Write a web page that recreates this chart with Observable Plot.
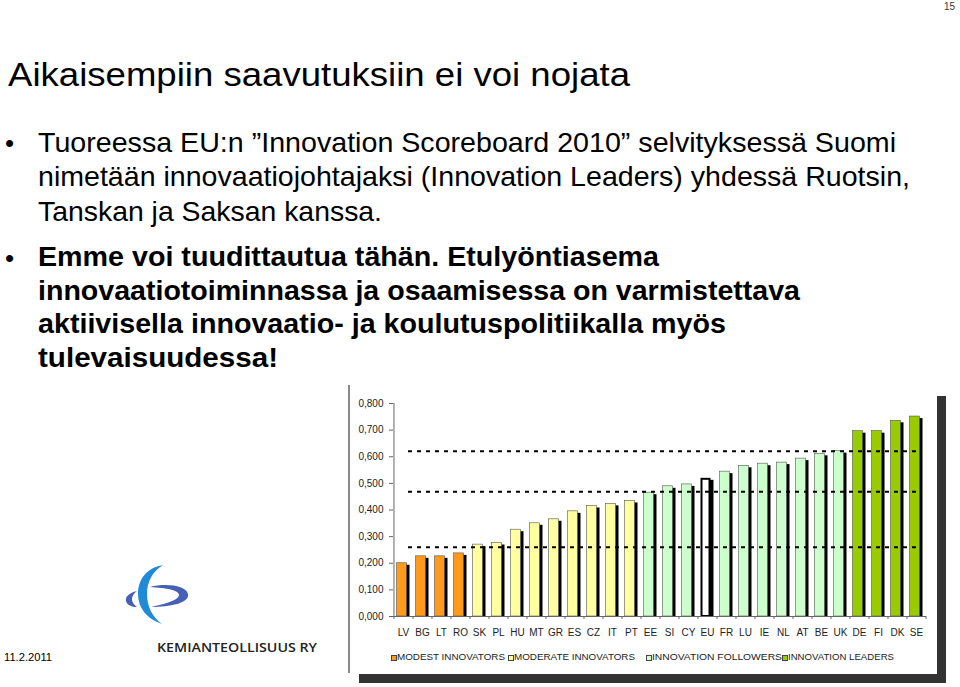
<!DOCTYPE html>
<html><head><meta charset="utf-8">
<script src="https://cdn.jsdelivr.net/npm/d3@7"></script>
<script src="https://cdn.jsdelivr.net/npm/@observablehq/plot@0.6"></script>
<style>
body{margin:0;background:#fff;width:960px;height:687px;overflow:hidden;position:relative;font-family:"Liberation Sans",Arial,sans-serif;}
.t{position:absolute;white-space:nowrap;line-height:1;transform-origin:0 0;}
.box{position:absolute;}
</style></head>
<body>
<script>
// ---- data ----
const categories = ["LV","BG","LT","RO","SK","PL","HU","MT","GR","ES","CZ","IT","PT","EE","SI","CY","EU","FR","LU","IE","NL","AT","BE","UK","DE","FI","DK","SE"];
const values = [0.200,0.226,0.226,0.237,0.270,0.276,0.326,0.350,0.365,0.395,0.415,0.423,0.434,0.465,0.489,0.496,0.519,0.544,0.566,0.574,0.578,0.593,0.611,0.621,0.696,0.696,0.735,0.751];
const groups = ["modest","modest","modest","modest",
  "moderate","moderate","moderate","moderate","moderate","moderate","moderate","moderate","moderate",
  "followers","followers","followers","eu","followers","followers","followers","followers","followers","followers","followers",
  "leaders","leaders","leaders","leaders"];
const groupNames = ["modest","moderate","followers","eu","leaders"];
const groupColors = ["#FF9A1A","#FFFFA0","#CCFFCC","#FFFFFF","#99CC00"];
const thresholds = [0.260, 0.469, 0.621];
const yTicks = [0,0.1,0.2,0.3,0.4,0.5,0.6,0.7,0.8];
const legendLabels = ["MODEST INNOVATORS","MODERATE INNOVATORS","INNOVATION FOLLOWERS","INNOVATION LEADERS"];
const legendColors = ["#FF9A1A","#FFFFA0","#CCFFCC","#99CC00"];
const legendX = [391, 508, 646, 782];
const legendW = [108, 121, 130, 106];

const title = "Aikaisempiin saavutuksiin ei voi nojata";
const bullet1 = ["Tuoreessa EU:n \u201DInnovation Scoreboard 2010\u201D selvityksessä Suomi",
  "nimetään innovaatiojohtajaksi (Innovation Leaders) yhdessä Ruotsin,",
  "Tanskan ja Saksan kanssa."];
const bullet2 = ["Emme voi tuudittautua tähän. Etulyöntiasema",
  "innovaatiotoiminnassa ja osaamisessa on varmistettava",
  "aktiivisella innovaatio- ja koulutuspolitiikalla myös",
  "tulevaisuudessa!"];

// ---- helpers ----
function addText(txt, x, baseline, size, opts = {}) {
  const el = document.createElement("div");
  el.className = "t";
  el.textContent = txt;
  el.style.left = x + "px";
  el.style.fontSize = size + "px";
  el.style.fontWeight = opts.weight || 400;
  if (opts.family) el.style.fontFamily = opts.family;
  el.style.color = opts.color || "#000";
  if (opts.ls) el.style.letterSpacing = opts.ls + "px";
  const asc = opts.asc ?? 0.8465;
  el.style.top = (baseline - asc * size) + "px";
  document.body.appendChild(el);
  if (opts.width) {
    const w = el.getBoundingClientRect().width;
    el.style.transform = `scaleX(${opts.width / w})`;
  }
  return el;
}
function addBox(x, y, w, h, css) {
  const el = document.createElement("div");
  el.className = "box";
  Object.assign(el.style, {left: x + "px", top: y + "px", width: w + "px", height: h + "px"}, css);
  document.body.appendChild(el);
  return el;
}

// ---- slide text ----
addText("15", 944, 10, 10, {width: 11, color: "#333"});
addText(title, 8, 86, 34, {width: 622});
addText("\u2022", 5, 152.5, 26);
const b1Base = [152.7, 186.7, 221.5];
const b1W = [858, 872, 344];
bullet1.forEach((s, i) => addText(s, 38, b1Base[i], 28, {width: b1W[i]}));
addText("\u2022", 5, 267, 26);
const b2Base = [266.7, 300.5, 334, 367.5];
const b2W = [621, 762, 688, 240];
bullet2.forEach((s, i) => addText(s, 38, b2Base[i], 28, {weight: 700, width: b2W[i]}));
addText("11.2.2011", 4, 661, 11, {width: 48});
addText("KEMIANTEOLLISUUS RY", 157, 653.5, 12.5, {family: "'Open Sans', sans-serif", weight: 600, asc: 0.888, width: 160, color: "#222"});

// ---- logo ----
const logoNS = "http://www.w3.org/2000/svg";
const logo = document.createElementNS(logoNS, "svg");
logo.setAttribute("width", 80); logo.setAttribute("height", 75);
Object.assign(logo.style, {position: "absolute", left: "120px", top: "560px"});
logo.innerHTML = `
<path d="M 30 27 C 45 23, 66 25, 68 34 C 70 43, 50 47, 31 47 C 45 44, 59 40, 59 35 C 59 30, 46 28, 30 27 Z" fill="#4560B5"/>
<path d="M 17 31 C 9 33, 5 37, 6 41 C 7 45, 12 47, 17 47 C 13 44, 12 41, 12 39 C 12 36, 14 33, 17 31 Z" fill="#4560B5"/>
<path d="M 43 5 C 26 8, 18 20, 18 34 C 18 48, 27 59, 42 64 C 32 57, 27 46, 27 34 C 27 22, 32 12, 43 5 Z" fill="#1F8BD8"/>`;
document.body.appendChild(logo);

// ---- chart frame ----
addBox(348, 385, 2, 288, {background: "#8a8a8a"});
addBox(359, 674, 587, 9, {background: "#333"});
addBox(937, 396, 9, 287, {background: "#333"});

// ---- chart ----
const data = categories.map((c, i) => ({cat: c, value: values[i], group: groups[i]}));
const W = 596, ML = 53, MR = 10;
const half = (W - ML - MR) / categories.length / 2;
const fmt = d => d3.format(".3f")(d).replace(".", ",");
const chart = Plot.plot({
  width: W, height: 262, marginLeft: ML, marginRight: MR, marginTop: 18, marginBottom: 31,
  style: {fontFamily: "'Liberation Sans', Arial, sans-serif", fontSize: "10px", color: "#222", background: "transparent", overflow: "visible"},
  x: {domain: categories, paddingInner: 0.48, paddingOuter: 0.24, label: null},
  y: {domain: [0, 0.8], label: null},
  color: {domain: groupNames, range: groupColors},
  marks: [
    Plot.barY(data, {x: "cat", y: "value", fill: "#000", dx: 1.5, insetTop: 2}),
    Plot.barY(data.filter(d => d.group !== "eu"), {x: "cat", y: "value", fill: "group", stroke: "#555", strokeWidth: 0.6, dx: -1.5}),
    Plot.barY(data.filter(d => d.group === "eu"), {x: "cat", y: "value", fill: "group", stroke: "#000", strokeWidth: 2, dx: -1.5, insetTop: 1, insetLeft: 1, insetRight: 1}),
    Plot.ruleY(thresholds, {stroke: "#000", strokeWidth: 2, strokeDasharray: "4,5", insetLeft: 15, insetRight: 9}),
    Plot.ruleY([0], {stroke: "#666"}),
    Plot.ruleX([categories[0]], {x: d => d, y1: 0, y2: 0.8, dx: -half, stroke: "#666"}),
    Plot.axisY({ticks: yTicks, tickFormat: fmt, tickSize: 4, tickPadding: 6, fontSize: 10, label: null, stroke: "#666"}),
    Plot.axisX({tickSize: 0, tickPadding: 12, fontSize: 10, label: null}),
    Plot.axisX({text: null, tickSize: 3, dx: -half, label: null, stroke: "#666"}),
    Plot.axisX({ticks: [categories[categories.length - 1]], text: null, tickSize: 3, dx: half, label: null, stroke: "#666"})
  ]
});
Object.assign(chart.style, {position: "absolute", left: "340px", top: "385px"});
document.body.appendChild(chart);

// ---- legend ----
legendLabels.forEach((lab, i) => {
  addBox(legendX[i], 655, 4, 4, {background: legendColors[i], border: "1px solid #444"});
  addText(lab, legendX[i] + 6, 661, 9, {width: legendW[i], color: "#222"});
});
</script>
</body></html>
